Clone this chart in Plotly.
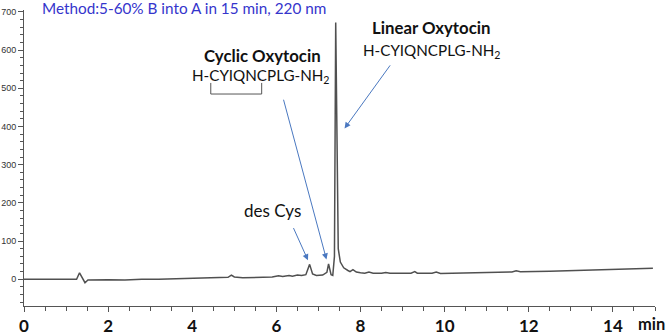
import plotly.graph_objects as go

# Chromatogram trace (retention time in min, absorbance mAU)
time_min = [0.0, 0.3, 0.6, 1.0, 1.25, 1.32, 1.38, 1.45, 1.52, 1.7, 2.0, 2.4, 2.8, 3.2, 3.6,
            4.0, 4.5, 4.85, 4.93, 5.0, 5.2, 5.6, 5.9, 6.05, 6.15, 6.3, 6.38, 6.5, 6.6, 6.7,
            6.79, 6.86, 6.95, 7.1, 7.2, 7.24, 7.3, 7.34, 7.38, 7.41, 7.44, 7.47, 7.52, 7.6,
            7.7, 7.75, 7.82, 7.9, 8.0, 8.1, 8.2, 8.3, 8.5, 8.6, 8.7, 9.0, 9.2, 9.29, 9.35,
            9.7, 9.8, 9.9, 10.2, 11.0, 11.6, 11.7, 11.8, 12.5, 13.0, 13.5, 14.0, 14.5, 14.95]
absorbance = [0, 0, -0.5, -0.5, 0, 17, 5, -9, -2, -1, -1, -2, 0, 0, 1,
              3, 4, 5, 11, 6, 4, 5, 6, 9, 7, 10, 8, 11, 10, 12,
              39, 14, 10, 11, 18, 40, 12, 10, 60, 672, 300, 80, 45, 30,
              23, 20, 25, 19, 17, 16, 19, 16, 16, 18, 16, 16, 16, 20, 16,
              16, 19, 15, 16, 18, 19, 22, 20, 21, 23, 24, 26, 27, 29]

x_tick_vals = [0, 2, 4, 6, 8, 10, 12, 14]
x_tick_text = ["0", "2", "4", "6", "8", "10", "12", "14"]
y_tick_vals = [0, 100, 200, 300, 400, 500, 600, 700]

method_text = "Method:5-60% B into A in 15 min, 220 nm"
seq_text = "H-CYIQNCPLG-NH<sub>2</sub>"

fig = go.Figure()
fig.add_trace(go.Scatter(x=time_min, y=absorbance, mode="lines",
                         line=dict(color="#505050", width=1.5), hoverinfo="skip",
                         showlegend=False))

arrow_col = "#4a78c0"
def arrow(tip, tail):
    fig.add_annotation(x=tip[0], y=tip[1], ax=tail[0], ay=tail[1], xref="x", yref="y",
                       axref="x", ayref="y", text="", showarrow=True, arrowhead=2,
                       arrowsize=1.2, arrowwidth=1, arrowcolor=arrow_col)

arrow((7.62, 395), (8.73, 564))
arrow((7.19, 52), (6.16, 474))
arrow((6.75, 50), (6.39, 138))

txt_font = "Lato, Open Sans, sans-serif"
def label(x, y, text, size=15, bold=False, color="#111111", xanchor="center"):
    t = "<b>%s</b>" % text if bold else text
    fig.add_annotation(x=x, y=y, xref="x", yref="y", text=t, showarrow=False,
                       xanchor=xanchor, yanchor="middle",
                       font=dict(family=txt_font, size=size, color=color))

fig.add_annotation(x=0.373, y=1.006, xref="x", yref="paper", text=method_text,
                   showarrow=False, xanchor="left", yanchor="middle",
                   font=dict(family=txt_font, size=15.3, color="#3535cc"))
label(5.66, 587, "Cyclic Oxytocin", size=16.8, bold=True)
label(5.63, 532, seq_text, size=15.2)
label(9.67, 658, "Linear Oxytocin", size=16.8, bold=True)
label(9.70, 598, seq_text, size=15.2)
label(5.90, 179, "des Cys", size=17)

# disulfide bracket
fig.add_shape(type="path", xref="x", yref="y",
              path="M 4.44,514 L 4.44,485 L 5.65,485 L 5.65,514",
              line=dict(color="#555555", width=1))

fig.add_annotation(x=14.92, y=-0.062, xref="x", yref="paper", text="<b>min</b>",
                   showarrow=False, xanchor="center", yanchor="middle",
                   font=dict(family=txt_font, size=16.5, color="#111111"))

fig.update_layout(
    width=669, height=335,
    margin=dict(l=24, r=14, t=10, b=29, autoexpand=False),
    plot_bgcolor="white", paper_bgcolor="white",
    xaxis=dict(range=[0, 15], tickvals=x_tick_vals, ticktext=x_tick_text,
               automargin=False,
               showgrid=False, zeroline=False, showline=True, linecolor="#555555",
               linewidth=1, ticks="outside", ticklen=5, tickcolor="#555555",
               tickfont=dict(family=txt_font, size=17, color="#111111", weight="bold"),
               minor=dict(dtick=0.5, ticks="outside", ticklen=4, tickcolor="#555555")),
    yaxis=dict(range=[-70, 705], tickvals=y_tick_vals, automargin=False,
               showgrid=False, zeroline=False, showline=True, linecolor="#555555",
               linewidth=1, ticks="outside", ticklen=5, tickcolor="#555555",
               tickfont=dict(family="Liberation Sans, Arial", size=9, color="#333333"),
               minor=dict(dtick=20, tick0=0, ticks="outside", ticklen=3,
                          tickcolor="#555555")),
)

fig.write_html("out.html", config={"displayModeBar": False},
               post_script="document.body.style.margin='0';document.body.style.overflow='hidden';")
